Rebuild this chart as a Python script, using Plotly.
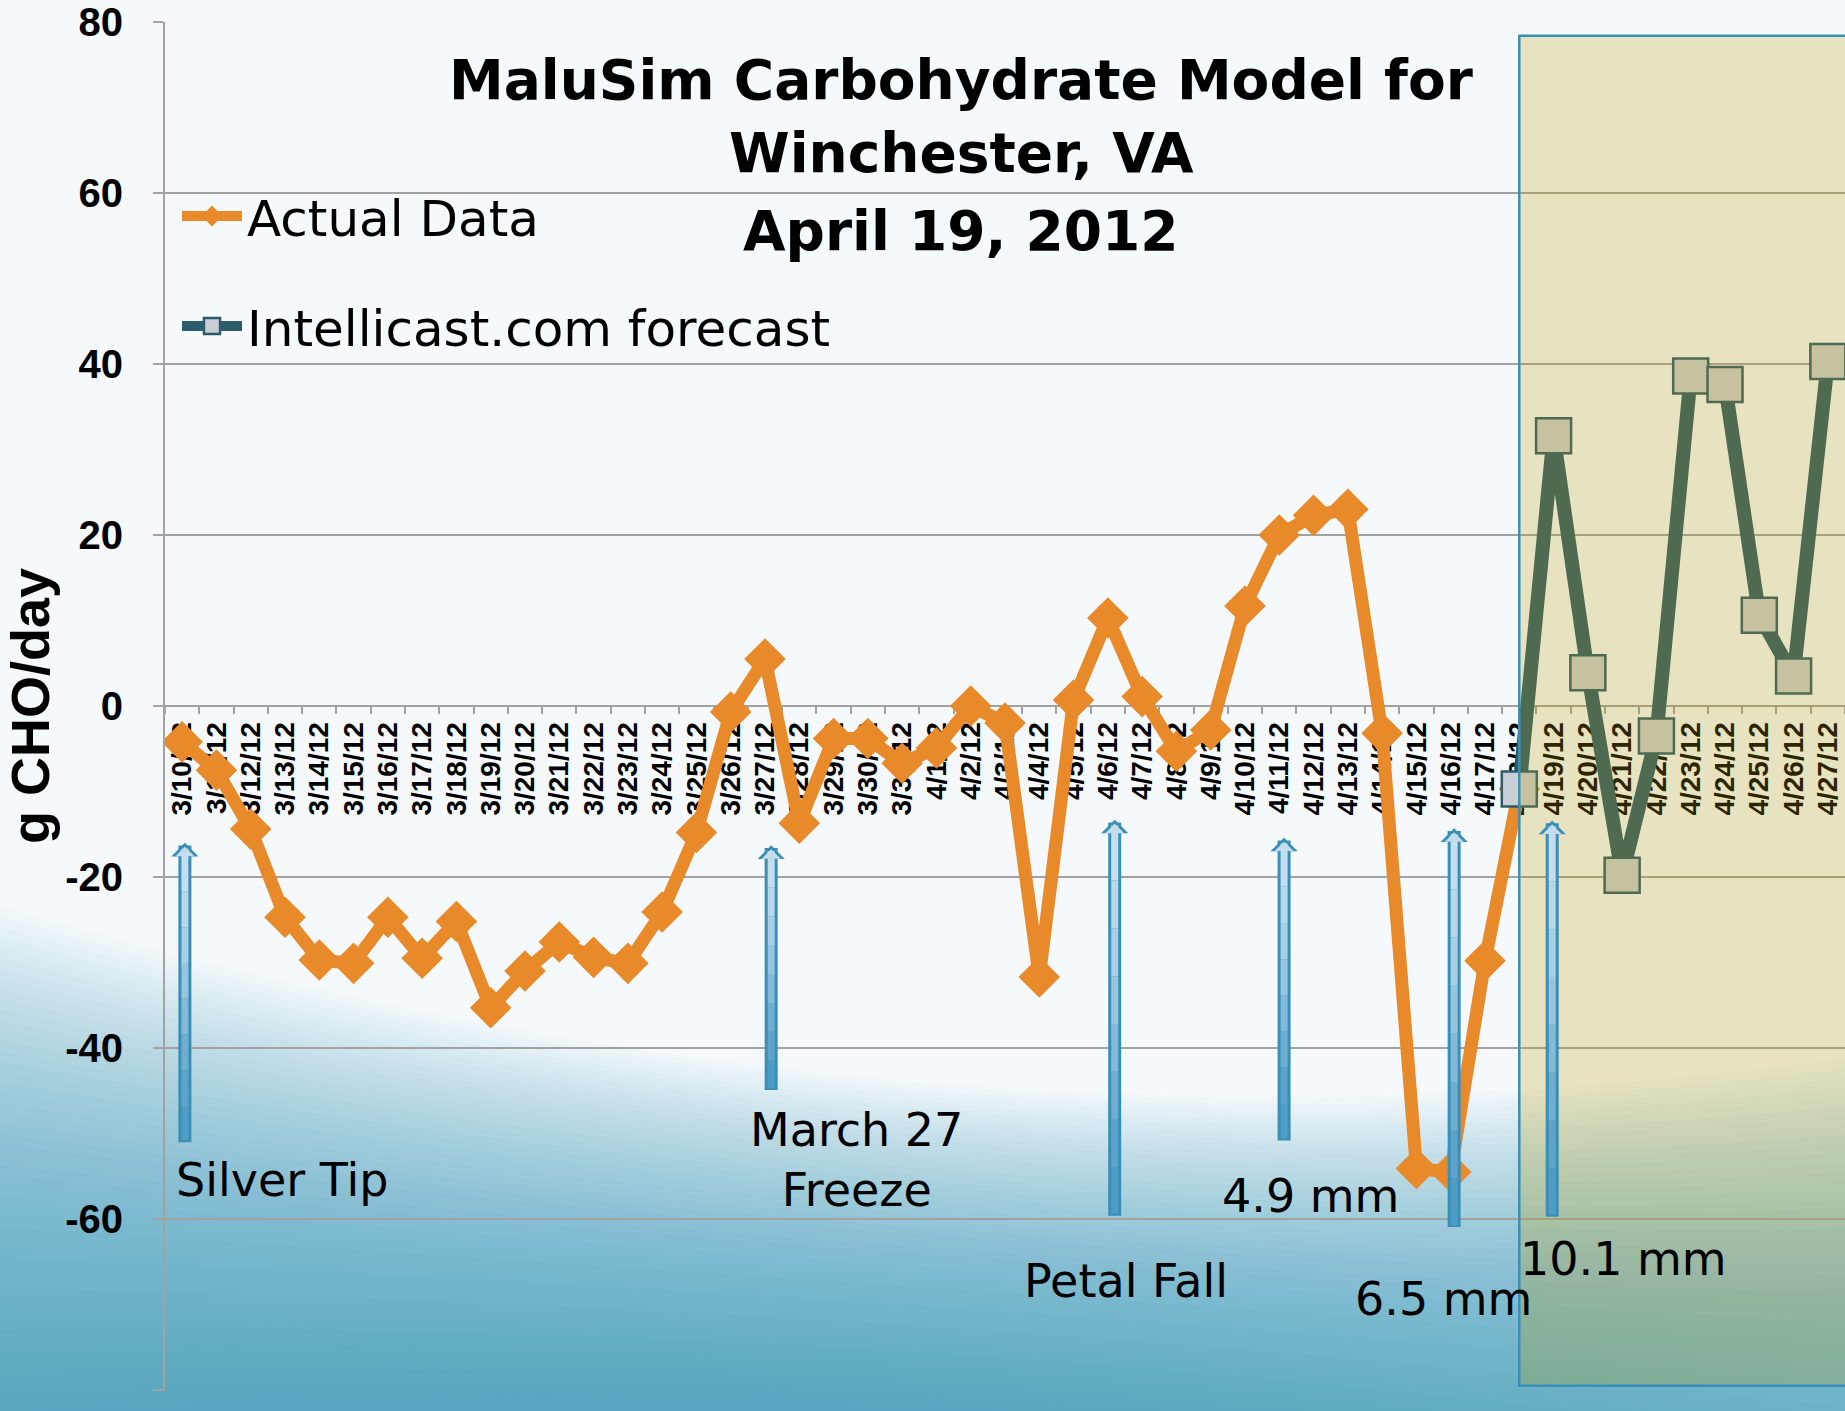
import plotly.graph_objects as go

# ---------------- data ----------------
categories = [
    "3/10/12", "3/11/12", "3/12/12", "3/13/12", "3/14/12", "3/15/12", "3/16/12",
    "3/17/12", "3/18/12", "3/19/12", "3/20/12", "3/21/12", "3/22/12", "3/23/12",
    "3/24/12", "3/25/12", "3/26/12", "3/27/12", "3/28/12", "3/29/12", "3/30/12",
    "3/31/12", "4/1/12", "4/2/12", "4/3/12", "4/4/12", "4/5/12", "4/6/12",
    "4/7/12", "4/8/12", "4/9/12", "4/10/12", "4/11/12", "4/12/12", "4/13/12",
    "4/14/12", "4/15/12", "4/16/12", "4/17/12", "4/18/12", "4/19/12", "4/20/12",
    "4/21/12", "4/22/12", "4/23/12", "4/24/12", "4/25/12", "4/26/12", "4/27/12",
]
actual_dates = categories[:40]
actual_values = [
    -4.2, -7.5, -14.4, -24.7, -29.7, -30.1, -24.7, -29.5, -25.2, -35.3,
    -31.0, -27.6, -29.4, -30.1, -24.1, -14.8, -0.7, 5.5, -13.7, -3.8,
    -3.8, -6.7, -4.9, 0.0, -2.0, -31.7, 0.7, 10.3, 1.1, -5.3,
    -2.8, 11.7, 20.0, 22.3, 23.0, -3.2, -54.1, -54.5, -29.8, -9.7,
]
forecast_dates = categories[39:]
forecast_values = [-9.7, 31.6, 3.9, -19.8, -3.5, 38.6, 37.6, 10.6, 3.5, 40.3]
y_ticks = [-80, -60, -40, -20, 0, 20, 40, 60, 80]
y_tick_labels = ["-80", "-60", "-40", "-20", "0", "20", "40", "60", "80"]

# event arrows: (category index, head value, tail value)
event_arrows = [
    (0.08, -16.0, -51.2),
    (17.18, -16.3, -45.1),
    (27.2, -13.3, -59.8),
    (32.14, -15.4, -51.0),
    (37.1, -14.3, -61.1),
    (39.96, -13.4, -59.9),
]
# event labels: (text, category index, value, xanchor)
event_labels = [
    ("Silver Tip", -0.24, -55.4, "left"),
    ("March 27<br>Freeze", 19.68, -53.1, "center"),
    ("Petal Fall", 27.53, -67.3, "center"),
    ("4.9 mm", 32.92, -57.3, "center"),
    ("6.5 mm", 36.8, -69.4, "center"),
    ("10.1 mm", 42.05, -64.7, "center"),
]

# ---------------- layout geometry ----------------
W, H = 1845, 1411
ML, MR, MT, MB = 165, 0, 22, 21
PW, PH = W - ML - MR, H - MT - MB
UNIT = PH / 160.0  # pixels per y unit
BG = "#f5f9fb"
S = W / 1568.0


def px(X):
    return (X - ML) / PW


def py(Y):
    return (H - MB - Y) / PH


ORANGE = "#e8892a"
TEAL = "#2c5b6b"
GRID = "#a2a2a2"
BOLD_FONT = "Liberation Sans, Arial, sans-serif"
TEXT_FONT = "DejaVu Sans, Verdana, sans-serif"

fig = go.Figure()

fig.add_trace(go.Scatter(
    x=actual_dates, y=actual_values, name="Actual Data", legendgroup="a",
    mode="lines+markers",
    line=dict(color=ORANGE, width=13),
    marker=dict(symbol="diamond", size=32, color=ORANGE, line=dict(width=0)),
))
fig.add_trace(go.Scatter(
    x=forecast_dates, y=forecast_values, name="Intellicast.com forecast", legendgroup="b",
    mode="lines+markers",
    line=dict(color=TEAL, width=14),
    marker=dict(symbol="square", size=35, color="#c9ced2", line=dict(width=2.5, color=TEAL)),
))

shapes = []
# background gradient (layered translucent bands, diagonal sweep)
N = 50
x_left, x_mid, x_right = px(0), px(W / 2), px(W)
y_bot = py(H)
for k in range(N):
    yl = (770 + 8.8 * k) * S
    ym = (920 + 5.6 * k) * S
    yr = (900 + 8.0 * k) * S
    yc = 2 * ym - (yl + yr) / 2
    path = (f"M {x_left},{py(yl)} Q {x_mid},{py(yc)} {x_right},{py(yr)} "
            f"L {x_right},{y_bot} L {x_left},{y_bot} Z")
    shapes.append(dict(type="path", xref="paper", yref="paper", path=path,
                       fillcolor="rgba(60,145,180,0.031)", line=dict(width=0),
                       layer="below"))

# forecast window overlay
shapes.append(dict(type="rect", xref="x", yref="y", x0=39, x1=49.5, y0=-79.5, y1=78.4,
                   fillcolor="rgba(187,154,2,0.24)",
                   line=dict(color="#3a8fb7", width=2.5), layer="above"))

annotations = []
# title lines
title_lines = [("MaluSim Carbohydrate Model for", 80), ("Winchester, VA", 153), ("April 19, 2012", 231)]
for txt, yc in title_lines:
    annotations.append(dict(text=txt, xref="paper", yref="paper", x=px(961), y=py(yc),
                            xanchor="center", yanchor="middle", showarrow=False,
                            font=dict(family=TEXT_FONT, size=55, color="black", weight="bold")))

# arrows
SHAFT_COLORS = ["#c6dded", "#bad7e8", "#aacee3", "#98c4dd", "#84b9d7",
                "#70aed0", "#5ea4ca", "#4f9cc5"]
for xi, head, tail in event_arrows:
    annotations.append(dict(x=xi, y=head, ax=xi, ay=tail, xref="x", yref="y",
                            axref="x", ayref="y", text="", showarrow=True,
                            arrowhead=1, arrowsize=0.35, arrowwidth=13,
                            arrowcolor="#3a8fb7", standoff=0))
    top = head - 13 / UNIT
    bot = tail + 2 / UNIT
    nseg = len(SHAFT_COLORS)
    for s, col in enumerate(SHAFT_COLORS):
        y0 = top + (bot - top) * s / nseg
        y1 = top + (bot - top) * (s + 1) / nseg - (1.5 / UNIT if s < nseg - 1 else 0)
        annotations.append(dict(x=xi, y=y0, ax=xi, ay=y1, xref="x", yref="y",
                                axref="x", ayref="y", text="", showarrow=True,
                                arrowhead=0, arrowwidth=7, arrowcolor=col, standoff=0))
    # light inner arrow head
    annotations.append(dict(x=xi, y=head - 4 / UNIT, ax=xi, ay=head - 14 / UNIT,
                            xref="x", yref="y", axref="x", ayref="y", text="",
                            showarrow=True, arrowhead=1, arrowsize=0.45, arrowwidth=7,
                            arrowcolor=SHAFT_COLORS[0], standoff=0))

for txt, xi, yv, xa in event_labels:
    annotations.append(dict(text=txt, x=xi, y=yv, xref="x", yref="y", xanchor=xa,
                            yanchor="middle", showarrow=False,
                            font=dict(family=TEXT_FONT, size=46, color="black")))

fig.update_layout(
    width=W, height=H, autosize=False,
    margin=dict(l=ML, r=MR, t=MT, b=MB, pad=0, autoexpand=False),
    paper_bgcolor=BG, plot_bgcolor="rgba(0,0,0,0)",
    shapes=shapes, annotations=annotations,
    showlegend=True,
    legend=dict(x=px(177), y=py(177), xanchor="left", yanchor="top",
                bgcolor="rgba(0,0,0,0)", font=dict(family=TEXT_FONT, size=50, color="black"),
                itemwidth=60, tracegroupgap=42, traceorder="grouped"),
    xaxis=dict(type="category", categoryorder="array", categoryarray=categories,
               range=[-0.5, 48.5], anchor="free", position=0.5, automargin=False,
               showline=True, linecolor=GRID, linewidth=2,
               ticks="outside", ticklen=7, tickwidth=1.5, tickcolor=GRID,
               tickson="boundaries", tickangle=-90, showgrid=False,
               tickfont=dict(family=BOLD_FONT, size=28, color="black", weight="bold"),
               ticklabelstandoff=4, layer="below traces"),
    yaxis=dict(range=[-80, 80], tickvals=y_ticks, ticktext=y_tick_labels, automargin=False,
               showgrid=True, gridcolor=GRID, gridwidth=1.5,
               zeroline=False, showline=True, linecolor=GRID, linewidth=2,
               ticks="outside", ticklen=10, tickwidth=1.5, tickcolor=GRID,
               tickfont=dict(family=BOLD_FONT, size=40, color="black", weight="bold"),
               ticklabelstandoff=22,
               title=dict(text="g CHO/day", standoff=4,
                          font=dict(family=BOLD_FONT, size=54, color="black", weight="bold"))),
)

fig.write_html(
    "out.html",
    config={"displayModeBar": False},
    post_script="document.body.style.margin='0';document.body.style.overflow='hidden';"
                "document.body.style.background='" + BG + "';",
)
